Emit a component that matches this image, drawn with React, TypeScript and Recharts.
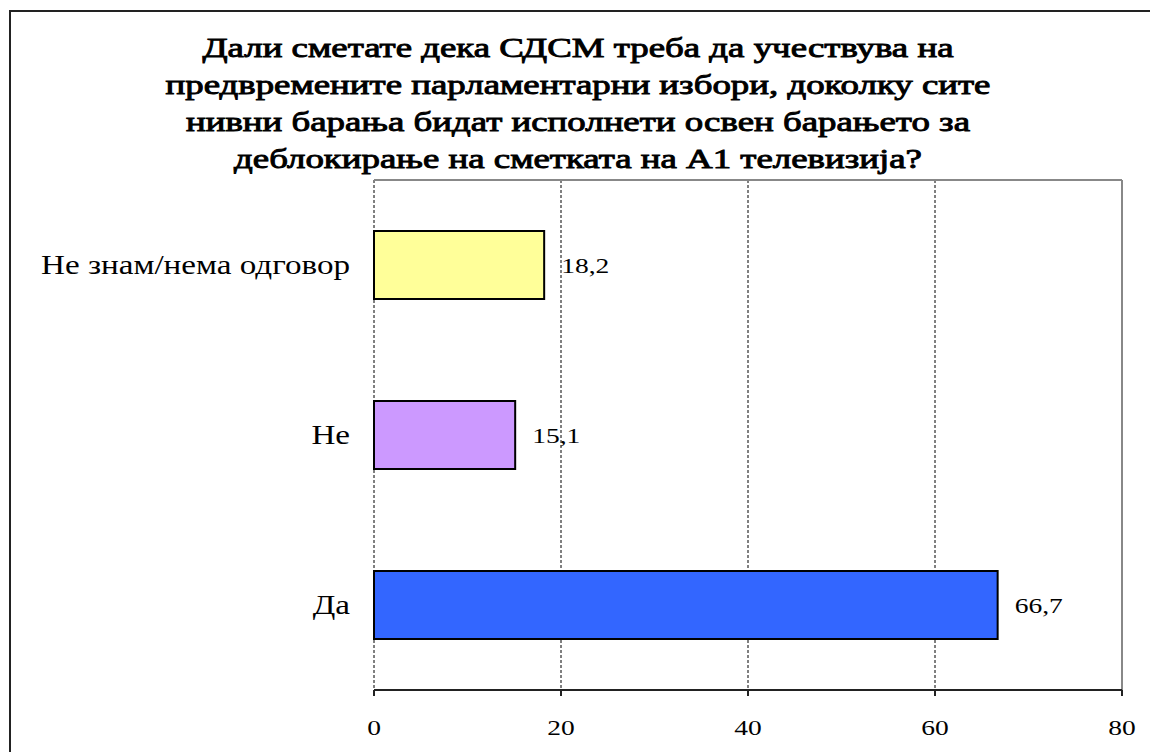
// Poll chart: horizontal bars, Macedonian survey question about early elections

import { BarChart, Bar, XAxis, YAxis, CartesianGrid, ReferenceLine, LabelList, Cell } from 'recharts';

const TITLE_LINES = [
    'Дали сметате дека СДСМ треба да учествува на',
    'предвремените парламентарни избори, доколку сите',
    'нивни барања бидат исполнети освен барањето за',
    'деблокирање на сметката на А1 телевизија?',
];

const categories = ['Не знам/нема одговор', 'Не', 'Да'];
const values = [18.2, 15.1, 66.7];
const barColors = ['#FFFF99', '#CC99FF', '#3366FF'];
const xTicks = [0, 20, 40, 60, 80];
const bandEdges = [0, 1, 2, 3];

const data = categories.map((name, i) => ({ name, value: values[i] }));

const FONT = 'Liberation Serif, Times New Roman, serif';
// the source image is stretched sideways a bit
const STRETCH = 1.25;
const TITLE_STRETCH = 1.34;

const CategoryTick = (props: any) => {
    const { x, y, payload } = props;
    return (
        <text
            transform={`translate(${x},${y}) scale(${STRETCH},1)`}
            textAnchor="end"
            dominantBaseline="central"
            fontFamily={FONT}
            fontSize={26.5}
            fill="#000"
        >
            {payload.value}
        </text>
    );
};

const ValueTick = (props: any) => {
    const { x, y, payload } = props;
    return (
        <text
            transform={`translate(${x},${y}) scale(${STRETCH},1)`}
            textAnchor="middle"
            dominantBaseline="central"
            fontFamily={FONT}
            fontSize={22}
            fill="#000"
        >
            {payload.value}
        </text>
    );
};

const BarValue = (props: any) => {
    const { x, y, width, height, value } = props;
    return (
        <text
            transform={`translate(${x + width + 17},${y + height / 2}) scale(${STRETCH},1)`}
            textAnchor="start"
            dominantBaseline="central"
            fontFamily={FONT}
            fontSize={22}
            fill="#000"
        >
            {String(value).replace('.', ',')}
        </text>
    );
};

export default function App() {
    return (
        <div style={{ position: 'fixed', left: 0, top: 0, width: 1150, height: 752, overflow: 'hidden', background: '#fff' }}>
            <div
                style={{
                    position: 'absolute',
                    left: 9,
                    top: 10,
                    width: 1300,
                    height: 900,
                    borderLeft: '2px solid #222',
                    borderTop: '2px solid #222',
                }}
            />
            <div
                style={{
                    position: 'absolute',
                    left: 0,
                    top: 29,
                    width: 1156,
                    textAlign: 'center',
                    fontFamily: FONT,
                    fontWeight: 'normal',
                    WebkitTextStroke: '0.9px #000',
                    fontSize: 27.5,
                    lineHeight: '37px',
                    transform: `scaleX(${TITLE_STRETCH})`,
                    transformOrigin: '578px 0',
                    color: '#000',
                    whiteSpace: 'nowrap',
                }}
            >
                {TITLE_LINES.map((l) => (
                    <div key={l}>{l}</div>
                ))}
            </div>
            <div style={{ position: 'absolute', left: 0, top: 0 }}>
                <BarChart
                    width={1150}
                    height={752}
                    data={data}
                    layout="vertical"
                    margin={{ top: 180, right: 28, bottom: 0, left: 0 }}
                    barCategoryGap="30%"
                >
                    <CartesianGrid horizontal={false} stroke="#000" strokeDasharray="3 2" />
                    <CartesianGrid
                        vertical={false}
                        stroke="#888"
                        strokeWidth={2}
                        horizontalCoordinatesGenerator={({ offset }: any) => [offset.top]}
                    />
                    <XAxis
                        type="number"
                        domain={[0, 80]}
                        ticks={xTicks}
                        height={62}
                        axisLine={{ stroke: '#222', strokeWidth: 2 }}
                        tickLine={{ stroke: '#222', strokeWidth: 2 }}
                        tickSize={6}
                        tickMargin={31}
                        tick={<ValueTick />}
                    />
                    <YAxis
                        yAxisId="edges"
                        type="number"
                        domain={[0, 3]}
                        ticks={bandEdges}
                        width={0}
                        tick={false}
                        tickSize={6}
                        axisLine={{ stroke: '#222', strokeWidth: 2 }}
                        tickLine={{ stroke: '#222', strokeWidth: 2 }}
                    />
                    <YAxis
                        yAxisId="cat"
                        type="category"
                        dataKey="name"
                        width={374}
                        axisLine={false}
                        tickLine={false}
                        tickSize={0}
                        tickMargin={24}
                        tick={<CategoryTick />}
                    />
                    <ReferenceLine x={80} yAxisId="edges" stroke="#888" strokeWidth={2} />
                    <Bar dataKey="value" yAxisId="cat" stroke="#000" strokeWidth={2} isAnimationActive={false}>
                        {data.map((d, i) => (
                            <Cell key={d.name} fill={barColors[i]} />
                        ))}
                        <LabelList dataKey="value" content={<BarValue />} />
                    </Bar>
                </BarChart>
            </div>
        </div>
    );
}
